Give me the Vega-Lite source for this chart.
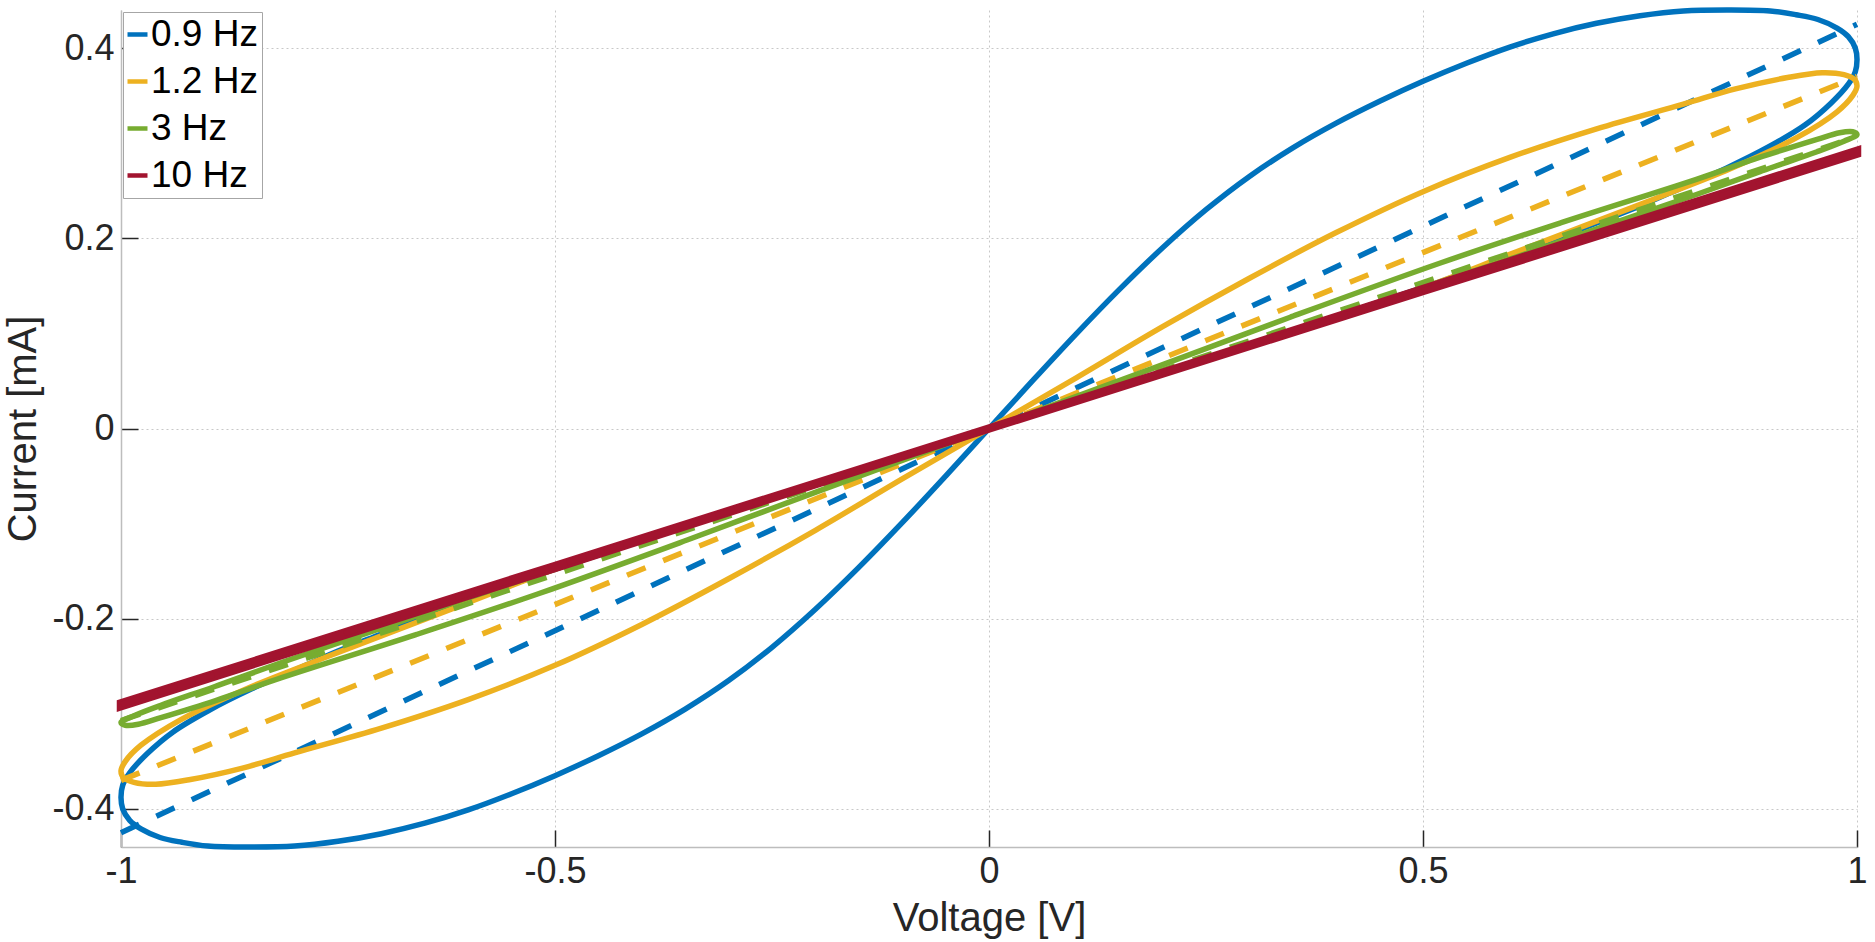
{
  "$schema": "https://vega.github.io/schema/vega-lite/v6.json",
  "width": 1736,
  "height": 837,
  "autosize": {"type": "none"},
  "padding": {"left": 121, "top": 10, "right": 18, "bottom": 95},
  "background": "white",
  "config": {
    "view": {"stroke": null},
    "font": "Liberation Sans"
  },
  "data": {
    "values": [
      {"f":"0.9 Hz","k":"s","i":1,"v":0,"c":0},
      {"f":"0.9 Hz","k":"s","i":2,"v":0.1,"c":0.029},
      {"f":"0.9 Hz","k":"s","i":3,"v":0.2,"c":0.058},
      {"f":"0.9 Hz","k":"s","i":4,"v":0.3,"c":0.088},
      {"f":"0.9 Hz","k":"s","i":5,"v":0.4,"c":0.118},
      {"f":"0.9 Hz","k":"s","i":6,"v":0.5,"c":0.148},
      {"f":"0.9 Hz","k":"s","i":7,"v":0.55,"c":0.164},
      {"f":"0.9 Hz","k":"s","i":8,"v":0.6,"c":0.18},
      {"f":"0.9 Hz","k":"s","i":9,"v":0.65,"c":0.198},
      {"f":"0.9 Hz","k":"s","i":10,"v":0.7,"c":0.216},
      {"f":"0.9 Hz","k":"s","i":11,"v":0.75,"c":0.234},
      {"f":"0.9 Hz","k":"s","i":12,"v":0.8,"c":0.254},
      {"f":"0.9 Hz","k":"s","i":13,"v":0.85,"c":0.274},
      {"f":"0.9 Hz","k":"s","i":14,"v":0.9,"c":0.297},
      {"f":"0.9 Hz","k":"s","i":15,"v":0.94,"c":0.319},
      {"f":"0.9 Hz","k":"s","i":16,"v":0.97,"c":0.342},
      {"f":"0.9 Hz","k":"s","i":17,"v":0.99,"c":0.362},
      {"f":"0.9 Hz","k":"s","i":18,"v":0.998,"c":0.375},
      {"f":"0.9 Hz","k":"s","i":19,"v":1,"c":0.388},
      {"f":"0.9 Hz","k":"s","i":20,"v":0.998,"c":0.4},
      {"f":"0.9 Hz","k":"s","i":21,"v":0.99,"c":0.412},
      {"f":"0.9 Hz","k":"s","i":22,"v":0.977,"c":0.421},
      {"f":"0.9 Hz","k":"s","i":23,"v":0.955,"c":0.43},
      {"f":"0.9 Hz","k":"s","i":24,"v":0.93,"c":0.435},
      {"f":"0.9 Hz","k":"s","i":25,"v":0.9,"c":0.439},
      {"f":"0.9 Hz","k":"s","i":26,"v":0.85,"c":0.44},
      {"f":"0.9 Hz","k":"s","i":27,"v":0.8,"c":0.439},
      {"f":"0.9 Hz","k":"s","i":28,"v":0.75,"c":0.434},
      {"f":"0.9 Hz","k":"s","i":29,"v":0.7,"c":0.426},
      {"f":"0.9 Hz","k":"s","i":30,"v":0.65,"c":0.415},
      {"f":"0.9 Hz","k":"s","i":31,"v":0.6,"c":0.401},
      {"f":"0.9 Hz","k":"s","i":32,"v":0.55,"c":0.384},
      {"f":"0.9 Hz","k":"s","i":33,"v":0.5,"c":0.365},
      {"f":"0.9 Hz","k":"s","i":34,"v":0.45,"c":0.344},
      {"f":"0.9 Hz","k":"s","i":35,"v":0.4,"c":0.321},
      {"f":"0.9 Hz","k":"s","i":36,"v":0.35,"c":0.295},
      {"f":"0.9 Hz","k":"s","i":37,"v":0.3,"c":0.265},
      {"f":"0.9 Hz","k":"s","i":38,"v":0.25,"c":0.23},
      {"f":"0.9 Hz","k":"s","i":39,"v":0.2,"c":0.19},
      {"f":"0.9 Hz","k":"s","i":40,"v":0.15,"c":0.146},
      {"f":"0.9 Hz","k":"s","i":41,"v":0.1,"c":0.099},
      {"f":"0.9 Hz","k":"s","i":42,"v":0.05,"c":0.05},
      {"f":"0.9 Hz","k":"s","i":43,"v":0,"c":0},
      {"f":"0.9 Hz","k":"s","i":44,"v":-0.05,"c":-0.05},
      {"f":"0.9 Hz","k":"s","i":45,"v":-0.1,"c":-0.099},
      {"f":"0.9 Hz","k":"s","i":46,"v":-0.15,"c":-0.146},
      {"f":"0.9 Hz","k":"s","i":47,"v":-0.2,"c":-0.19},
      {"f":"0.9 Hz","k":"s","i":48,"v":-0.25,"c":-0.23},
      {"f":"0.9 Hz","k":"s","i":49,"v":-0.3,"c":-0.265},
      {"f":"0.9 Hz","k":"s","i":50,"v":-0.35,"c":-0.295},
      {"f":"0.9 Hz","k":"s","i":51,"v":-0.4,"c":-0.321},
      {"f":"0.9 Hz","k":"s","i":52,"v":-0.45,"c":-0.344},
      {"f":"0.9 Hz","k":"s","i":53,"v":-0.5,"c":-0.365},
      {"f":"0.9 Hz","k":"s","i":54,"v":-0.55,"c":-0.384},
      {"f":"0.9 Hz","k":"s","i":55,"v":-0.6,"c":-0.401},
      {"f":"0.9 Hz","k":"s","i":56,"v":-0.65,"c":-0.415},
      {"f":"0.9 Hz","k":"s","i":57,"v":-0.7,"c":-0.426},
      {"f":"0.9 Hz","k":"s","i":58,"v":-0.75,"c":-0.434},
      {"f":"0.9 Hz","k":"s","i":59,"v":-0.8,"c":-0.439},
      {"f":"0.9 Hz","k":"s","i":60,"v":-0.85,"c":-0.44},
      {"f":"0.9 Hz","k":"s","i":61,"v":-0.9,"c":-0.439},
      {"f":"0.9 Hz","k":"s","i":62,"v":-0.93,"c":-0.435},
      {"f":"0.9 Hz","k":"s","i":63,"v":-0.955,"c":-0.43},
      {"f":"0.9 Hz","k":"s","i":64,"v":-0.977,"c":-0.421},
      {"f":"0.9 Hz","k":"s","i":65,"v":-0.99,"c":-0.412},
      {"f":"0.9 Hz","k":"s","i":66,"v":-0.998,"c":-0.4},
      {"f":"0.9 Hz","k":"s","i":67,"v":-1,"c":-0.388},
      {"f":"0.9 Hz","k":"s","i":68,"v":-0.998,"c":-0.375},
      {"f":"0.9 Hz","k":"s","i":69,"v":-0.99,"c":-0.362},
      {"f":"0.9 Hz","k":"s","i":70,"v":-0.97,"c":-0.342},
      {"f":"0.9 Hz","k":"s","i":71,"v":-0.94,"c":-0.319},
      {"f":"0.9 Hz","k":"s","i":72,"v":-0.9,"c":-0.297},
      {"f":"0.9 Hz","k":"s","i":73,"v":-0.85,"c":-0.274},
      {"f":"0.9 Hz","k":"s","i":74,"v":-0.8,"c":-0.254},
      {"f":"0.9 Hz","k":"s","i":75,"v":-0.75,"c":-0.234},
      {"f":"0.9 Hz","k":"s","i":76,"v":-0.7,"c":-0.216},
      {"f":"0.9 Hz","k":"s","i":77,"v":-0.65,"c":-0.198},
      {"f":"0.9 Hz","k":"s","i":78,"v":-0.6,"c":-0.18},
      {"f":"0.9 Hz","k":"s","i":79,"v":-0.55,"c":-0.164},
      {"f":"0.9 Hz","k":"s","i":80,"v":-0.5,"c":-0.148},
      {"f":"0.9 Hz","k":"s","i":81,"v":-0.4,"c":-0.118},
      {"f":"0.9 Hz","k":"s","i":82,"v":-0.3,"c":-0.088},
      {"f":"0.9 Hz","k":"s","i":83,"v":-0.2,"c":-0.058},
      {"f":"0.9 Hz","k":"s","i":84,"v":-0.1,"c":-0.029},
      {"f":"0.9 Hz","k":"s","i":85,"v":0,"c":0},
      {"f":"0.9 Hz","k":"d","i":1,"v":-1,"c":-0.425},
      {"f":"0.9 Hz","k":"d","i":2,"v":1,"c":0.425},
      {"f":"1.2 Hz","k":"s","i":1,"v":0,"c":0},
      {"f":"1.2 Hz","k":"s","i":2,"v":0.1,"c":0.029},
      {"f":"1.2 Hz","k":"s","i":3,"v":0.2,"c":0.058},
      {"f":"1.2 Hz","k":"s","i":4,"v":0.3,"c":0.088},
      {"f":"1.2 Hz","k":"s","i":5,"v":0.4,"c":0.118},
      {"f":"1.2 Hz","k":"s","i":6,"v":0.5,"c":0.148},
      {"f":"1.2 Hz","k":"s","i":7,"v":0.6,"c":0.183},
      {"f":"1.2 Hz","k":"s","i":8,"v":0.7,"c":0.218},
      {"f":"1.2 Hz","k":"s","i":9,"v":0.777,"c":0.245},
      {"f":"1.2 Hz","k":"s","i":10,"v":0.854,"c":0.273},
      {"f":"1.2 Hz","k":"s","i":11,"v":0.931,"c":0.306},
      {"f":"1.2 Hz","k":"s","i":12,"v":0.977,"c":0.333},
      {"f":"1.2 Hz","k":"s","i":13,"v":0.995,"c":0.35},
      {"f":"1.2 Hz","k":"s","i":14,"v":1,"c":0.36},
      {"f":"1.2 Hz","k":"s","i":15,"v":0.997,"c":0.367},
      {"f":"1.2 Hz","k":"s","i":16,"v":0.985,"c":0.372},
      {"f":"1.2 Hz","k":"s","i":17,"v":0.96,"c":0.374},
      {"f":"1.2 Hz","k":"s","i":18,"v":0.92,"c":0.369},
      {"f":"1.2 Hz","k":"s","i":19,"v":0.86,"c":0.357},
      {"f":"1.2 Hz","k":"s","i":20,"v":0.8,"c":0.341},
      {"f":"1.2 Hz","k":"s","i":21,"v":0.7,"c":0.315},
      {"f":"1.2 Hz","k":"s","i":22,"v":0.6,"c":0.285},
      {"f":"1.2 Hz","k":"s","i":23,"v":0.5,"c":0.249},
      {"f":"1.2 Hz","k":"s","i":24,"v":0.4,"c":0.206},
      {"f":"1.2 Hz","k":"s","i":25,"v":0.3,"c":0.158},
      {"f":"1.2 Hz","k":"s","i":26,"v":0.2,"c":0.107},
      {"f":"1.2 Hz","k":"s","i":27,"v":0.1,"c":0.053},
      {"f":"1.2 Hz","k":"s","i":28,"v":0,"c":0},
      {"f":"1.2 Hz","k":"s","i":29,"v":-0.1,"c":-0.053},
      {"f":"1.2 Hz","k":"s","i":30,"v":-0.2,"c":-0.107},
      {"f":"1.2 Hz","k":"s","i":31,"v":-0.3,"c":-0.158},
      {"f":"1.2 Hz","k":"s","i":32,"v":-0.4,"c":-0.206},
      {"f":"1.2 Hz","k":"s","i":33,"v":-0.5,"c":-0.249},
      {"f":"1.2 Hz","k":"s","i":34,"v":-0.6,"c":-0.285},
      {"f":"1.2 Hz","k":"s","i":35,"v":-0.7,"c":-0.315},
      {"f":"1.2 Hz","k":"s","i":36,"v":-0.8,"c":-0.341},
      {"f":"1.2 Hz","k":"s","i":37,"v":-0.86,"c":-0.357},
      {"f":"1.2 Hz","k":"s","i":38,"v":-0.92,"c":-0.369},
      {"f":"1.2 Hz","k":"s","i":39,"v":-0.96,"c":-0.374},
      {"f":"1.2 Hz","k":"s","i":40,"v":-0.985,"c":-0.372},
      {"f":"1.2 Hz","k":"s","i":41,"v":-0.997,"c":-0.367},
      {"f":"1.2 Hz","k":"s","i":42,"v":-1,"c":-0.36},
      {"f":"1.2 Hz","k":"s","i":43,"v":-0.995,"c":-0.35},
      {"f":"1.2 Hz","k":"s","i":44,"v":-0.977,"c":-0.333},
      {"f":"1.2 Hz","k":"s","i":45,"v":-0.931,"c":-0.306},
      {"f":"1.2 Hz","k":"s","i":46,"v":-0.854,"c":-0.273},
      {"f":"1.2 Hz","k":"s","i":47,"v":-0.777,"c":-0.245},
      {"f":"1.2 Hz","k":"s","i":48,"v":-0.7,"c":-0.218},
      {"f":"1.2 Hz","k":"s","i":49,"v":-0.6,"c":-0.183},
      {"f":"1.2 Hz","k":"s","i":50,"v":-0.5,"c":-0.148},
      {"f":"1.2 Hz","k":"s","i":51,"v":-0.4,"c":-0.118},
      {"f":"1.2 Hz","k":"s","i":52,"v":-0.3,"c":-0.088},
      {"f":"1.2 Hz","k":"s","i":53,"v":-0.2,"c":-0.058},
      {"f":"1.2 Hz","k":"s","i":54,"v":-0.1,"c":-0.029},
      {"f":"1.2 Hz","k":"s","i":55,"v":0,"c":0},
      {"f":"1.2 Hz","k":"d","i":1,"v":-1,"c":-0.37},
      {"f":"1.2 Hz","k":"d","i":2,"v":1,"c":0.37},
      {"f":"3 Hz","k":"s","i":1,"v":0,"c":0},
      {"f":"3 Hz","k":"s","i":2,"v":0.2,"c":0.059},
      {"f":"3 Hz","k":"s","i":3,"v":0.4,"c":0.118},
      {"f":"3 Hz","k":"s","i":4,"v":0.6,"c":0.178},
      {"f":"3 Hz","k":"s","i":5,"v":0.7,"c":0.21},
      {"f":"3 Hz","k":"s","i":6,"v":0.815,"c":0.246},
      {"f":"3 Hz","k":"s","i":7,"v":0.891,"c":0.271},
      {"f":"3 Hz","k":"s","i":8,"v":0.954,"c":0.291},
      {"f":"3 Hz","k":"s","i":9,"v":0.985,"c":0.302},
      {"f":"3 Hz","k":"s","i":10,"v":1,"c":0.309},
      {"f":"3 Hz","k":"s","i":11,"v":0.995,"c":0.312},
      {"f":"3 Hz","k":"s","i":12,"v":0.98,"c":0.311},
      {"f":"3 Hz","k":"s","i":13,"v":0.954,"c":0.304},
      {"f":"3 Hz","k":"s","i":14,"v":0.891,"c":0.286},
      {"f":"3 Hz","k":"s","i":15,"v":0.815,"c":0.262},
      {"f":"3 Hz","k":"s","i":16,"v":0.661,"c":0.217},
      {"f":"3 Hz","k":"s","i":17,"v":0.52,"c":0.174},
      {"f":"3 Hz","k":"s","i":18,"v":0.347,"c":0.117},
      {"f":"3 Hz","k":"s","i":19,"v":0.194,"c":0.065},
      {"f":"3 Hz","k":"s","i":20,"v":0,"c":0},
      {"f":"3 Hz","k":"s","i":21,"v":-0.194,"c":-0.065},
      {"f":"3 Hz","k":"s","i":22,"v":-0.347,"c":-0.117},
      {"f":"3 Hz","k":"s","i":23,"v":-0.52,"c":-0.174},
      {"f":"3 Hz","k":"s","i":24,"v":-0.661,"c":-0.217},
      {"f":"3 Hz","k":"s","i":25,"v":-0.815,"c":-0.262},
      {"f":"3 Hz","k":"s","i":26,"v":-0.891,"c":-0.286},
      {"f":"3 Hz","k":"s","i":27,"v":-0.954,"c":-0.304},
      {"f":"3 Hz","k":"s","i":28,"v":-0.98,"c":-0.311},
      {"f":"3 Hz","k":"s","i":29,"v":-0.995,"c":-0.312},
      {"f":"3 Hz","k":"s","i":30,"v":-1,"c":-0.309},
      {"f":"3 Hz","k":"s","i":31,"v":-0.985,"c":-0.302},
      {"f":"3 Hz","k":"s","i":32,"v":-0.954,"c":-0.291},
      {"f":"3 Hz","k":"s","i":33,"v":-0.891,"c":-0.271},
      {"f":"3 Hz","k":"s","i":34,"v":-0.815,"c":-0.246},
      {"f":"3 Hz","k":"s","i":35,"v":-0.7,"c":-0.21},
      {"f":"3 Hz","k":"s","i":36,"v":-0.6,"c":-0.178},
      {"f":"3 Hz","k":"s","i":37,"v":-0.4,"c":-0.118},
      {"f":"3 Hz","k":"s","i":38,"v":-0.2,"c":-0.059},
      {"f":"3 Hz","k":"s","i":39,"v":0,"c":0},
      {"f":"3 Hz","k":"d","i":1,"v":-1,"c":-0.307},
      {"f":"3 Hz","k":"d","i":2,"v":1,"c":0.307},
      {"f":"10 Hz","k":"s","i":1,"v":0,"c":0},
      {"f":"10 Hz","k":"s","i":2,"v":0.5,"c":0.1445},
      {"f":"10 Hz","k":"s","i":3,"v":1,"c":0.289},
      {"f":"10 Hz","k":"s","i":4,"v":1,"c":0.292},
      {"f":"10 Hz","k":"s","i":5,"v":0.5,"c":0.1465},
      {"f":"10 Hz","k":"s","i":6,"v":0,"c":0},
      {"f":"10 Hz","k":"s","i":7,"v":-0.5,"c":-0.1465},
      {"f":"10 Hz","k":"s","i":8,"v":-1,"c":-0.292},
      {"f":"10 Hz","k":"s","i":9,"v":-1,"c":-0.289},
      {"f":"10 Hz","k":"s","i":10,"v":-0.5,"c":-0.1445},
      {"f":"10 Hz","k":"s","i":11,"v":0,"c":0},
      {"f":"10 Hz","k":"d","i":1,"v":-1,"c":-0.29},
      {"f":"10 Hz","k":"d","i":2,"v":1,"c":0.29}
    ]
  },
  "encoding": {
    "x": {
      "field": "v", "type": "quantitative",
      "scale": {"domain": [-1, 1], "nice": false, "zero": false},
      "axis": {
        "values": [-1, -0.5, 0, 0.5, 1], "labelExpr": "'' + datum.value", "title": "Voltage [V]",
        "domainColor": "#bdbdbd", "domainWidth": 1.5, "tickColor": "#262626", "tickWidth": 1.5, "tickSize": -17,
        "labelFont": "Liberation Sans", "labelFontSize": 36, "labelColor": "#262626", "labelPadding": 24, "labelFlush": false,
        "titleFont": "Liberation Sans", "titleFontSize": 40, "titleFontWeight": "normal", "titleColor": "#262626", "titlePadding": 9,
        "grid": true, "gridColor": "#c8c8c8", "gridDash": [2, 3], "gridWidth": 1
      }
    },
    "y": {
      "field": "c", "type": "quantitative",
      "scale": {"domain": [-0.44, 0.44], "nice": false, "zero": false},
      "axis": {
        "values": [-0.4, -0.2, 0, 0.2, 0.4], "labelExpr": "'' + datum.value", "title": "Current [mA]",
        "domainColor": "#bdbdbd", "domainWidth": 1.5, "tickColor": "#262626", "tickWidth": 1.5, "tickSize": -17,
        "labelFont": "Liberation Sans", "labelFontSize": 36, "labelColor": "#262626", "labelPadding": 24, "labelFlush": false,
        "titleFont": "Liberation Sans", "titleFontSize": 40, "titleFontWeight": "normal", "titleColor": "#262626", "titlePadding": 8,
        "grid": true, "gridColor": "#c8c8c8", "gridDash": [2, 3], "gridWidth": 1
      }
    },
    "order": {"field": "i", "type": "quantitative"},
    "color": {
      "field": "f", "type": "nominal",
      "scale": {"domain": ["0.9 Hz", "1.2 Hz", "3 Hz", "10 Hz"], "range": ["#0072BD", "#EDB120", "#77AC30", "#A2142F"]},
      "legend": {
        "title": null, "orient": "top-left", "offset": 2,
        "symbolType": "stroke", "symbolSize": 400, "symbolStrokeWidth": 4.5, "symbolDash": [1, 0], "symbolOffset": -8,
        "labelFont": "Liberation Sans", "labelFontSize": 37, "labelColor": "#000000", "labelOffset": -5, "labelLimit": 400,
        "strokeColor": "#a6a6a6", "fillColor": "#ffffff", "padding": 4, "rowPadding": 9
      }
    }
  },
  "layer": [
    {"transform": [{"filter": "datum.f == '0.9 Hz' && datum.k == 's'"}], "mark": {"type": "line", "strokeWidth": 5.5, "interpolate": "catmull-rom"}},
    {"transform": [{"filter": "datum.f == '0.9 Hz' && datum.k == 'd'"}], "mark": {"type": "line", "strokeWidth": 5.5, "strokeDash": [20, 19]}},
    {"transform": [{"filter": "datum.f == '1.2 Hz' && datum.k == 's'"}], "mark": {"type": "line", "strokeWidth": 5.5, "interpolate": "catmull-rom"}},
    {"transform": [{"filter": "datum.f == '1.2 Hz' && datum.k == 'd'"}], "mark": {"type": "line", "strokeWidth": 5.5, "strokeDash": [20, 19]}},
    {"transform": [{"filter": "datum.f == '3 Hz' && datum.k == 's'"}], "mark": {"type": "line", "strokeWidth": 5.5, "interpolate": "catmull-rom"}},
    {"transform": [{"filter": "datum.f == '3 Hz' && datum.k == 'd'"}], "mark": {"type": "line", "strokeWidth": 5.5, "strokeDash": [20, 19]}},
    {"transform": [{"filter": "datum.f == '10 Hz' && datum.k == 's'"}], "mark": {"type": "line", "strokeWidth": 8.5}},
    {"transform": [{"filter": "datum.f == '10 Hz' && datum.k == 'd'"}], "mark": {"type": "line", "strokeWidth": 5.5, "strokeDash": [20, 19]}}
  ]
}
